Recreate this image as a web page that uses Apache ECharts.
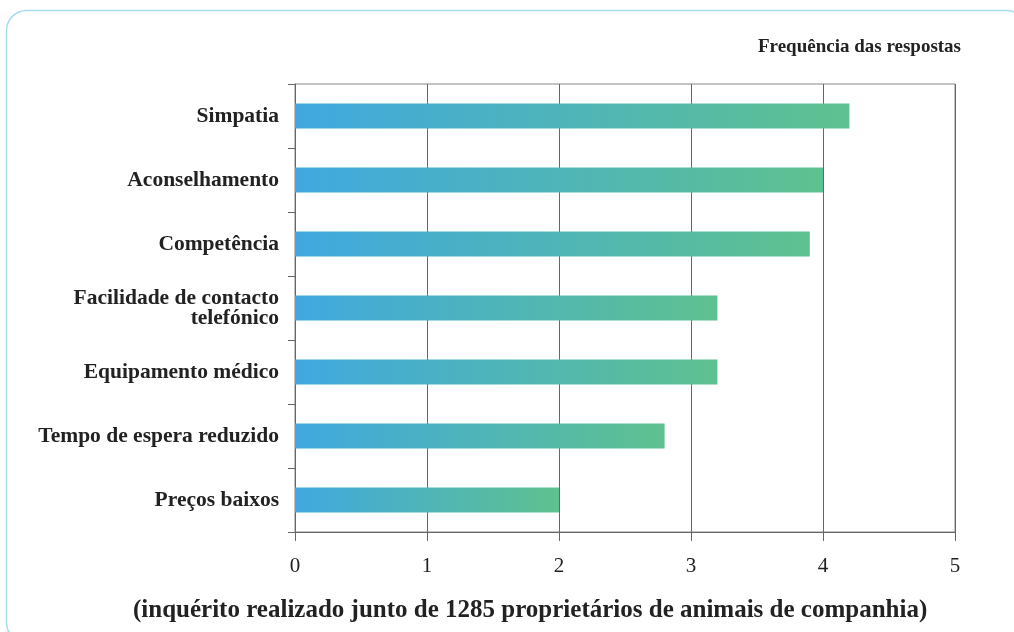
<!DOCTYPE html>
<html>
<head>
<meta charset="utf-8">
<script src="https://cdn.jsdelivr.net/npm/echarts@6/dist/echarts.min.js"></script>
<style>
html,body{margin:0;padding:0;background:#fff;}
#main{width:1014px;height:632px;}
</style>
</head>
<body>
<div id="main"></div>
<script>
const categories = ["Simpatia","Aconselhamento","Competência","Facilidade de contacto\ntelefónico","Equipamento médico","Tempo de espera reduzido","Preços baixos"];
const values = [4.2, 4.0, 3.9, 3.2, 3.2, 2.8, 2.0];
const xTicks = [0, 1, 2, 3, 4, 5];
const titleText = "Frequência das respostas";
const captionText = "(inquérito realizado junto de 1285 proprietários de animais de companhia)";

const FONT = "'Liberation Serif', 'DejaVu Serif', serif";
const chart = echarts.init(document.getElementById('main'));
chart.setOption({
  animation: false,
  backgroundColor: '#fff',
  graphic: [{
    type: 'rect', silent: true, z: -1,
    shape: {x: 6.5, y: 10.5, width: 1020, height: 632, r: 20},
    style: {fill: 'none', stroke: '#a6dbea', lineWidth: 1.5}
  }],
  title: [{
    text: titleText, right: 48, top: 33,
    textStyle: {fontFamily: FONT, fontSize: 19, fontWeight: 'bold', color: '#222'}
  }, {
    text: captionText, left: 128, top: 593,
    textStyle: {fontFamily: FONT, fontSize: 25, fontWeight: 'bold', color: '#222'}
  }],
  grid: {left: 295, right: 59, top: 84, bottom: 100, show: true, borderColor: '#888', borderWidth: 1, containLabel: false},
  xAxis: {
    type: 'value', min: 0, max: 5, interval: 1,
    axisLine: {show: true, lineStyle: {color: '#666', width: 1}},
    axisTick: {show: true, length: 9, lineStyle: {color: '#666'}},
    splitLine: {show: true, lineStyle: {color: '#666', width: 1}},
    axisLabel: {fontFamily: FONT, fontSize: 21, color: '#222', margin: 24,
      formatter: v => xTicks.indexOf(v) >= 0 ? String(v) : ''}
  },
  yAxis: {
    type: 'category', data: categories, inverse: true,
    axisLine: {show: true, lineStyle: {color: '#666'}},
    axisTick: {show: true, length: 7, lineStyle: {color: '#666'}},
    axisLabel: {fontFamily: FONT, fontSize: 21.5, fontWeight: 'bold', color: '#222', margin: 16, lineHeight: 20, align: 'right'}
  },
  series: [{
    type: 'bar', data: values, barWidth: 25,
    itemStyle: {color: new echarts.graphic.LinearGradient(0, 0, 1, 0, [
      {offset: 0, color: '#40a8e0'}, {offset: 1, color: '#5ec18f'}
    ])}
  }]
});
</script>
</body>
</html>
